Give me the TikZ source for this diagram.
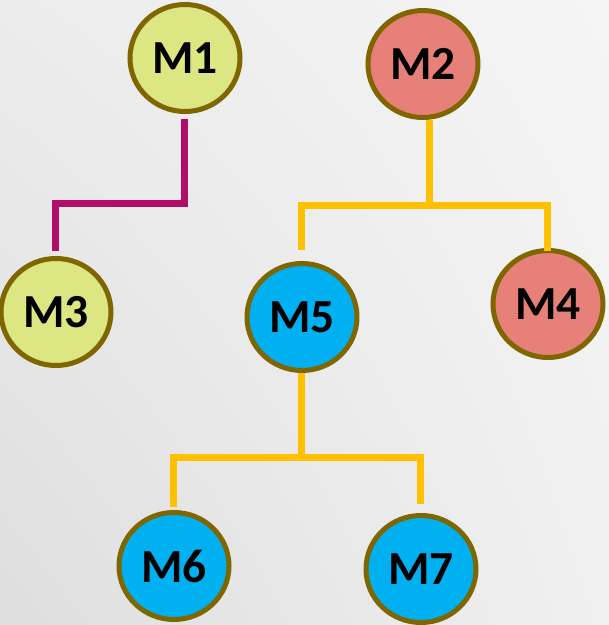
\documentclass[tikz,border=0pt]{standalone}
\usepackage{fontspec}
\setmainfont{Carlito}
\usetikzlibrary{shapes.geometric,shadings}
\definecolor{limefill}{RGB}{220,230,130}
\definecolor{salmonfill}{RGB}{230,128,120}
\definecolor{cyanfill}{RGB}{0,176,240}
\definecolor{olivering}{RGB}{127,102,0}
\definecolor{plumline}{RGB}{176,14,104}
\definecolor{amberline}{RGB}{255,192,0}
\definecolor{bgul}{RGB}{236,236,236}
\definecolor{bgur}{RGB}{245,245,245}
\definecolor{bgll}{RGB}{222,222,222}
\definecolor{bglr}{RGB}{240,240,240}
\begin{document}
\begin{tikzpicture}[
    mnode/.style={ellipse, draw=olivering, line width=0.05cm, minimum width=1.10cm,
        minimum height=1.07cm, inner sep=0pt, font=\bfseries\fontsize{13.5}{16}\selectfont},
    plum/.style={draw=plumline, line width=0.07cm},
    amber/.style={draw=amberline, line width=0.07cm}]
    % background
    \shade[upper left=bgul, upper right=bgur, lower left=bgll, lower right=bglr]
        (0,0) rectangle (6.09,6.25);
    \useasboundingbox (0,0) rectangle (6.09,6.25);
    % machines
    \node[mnode, fill=limefill] (M1) at (1.85,5.67) {M1};
    \node[mnode, fill=salmonfill] (M2) at (4.23,5.61) {M2};
    \node[mnode, fill=limefill] (M3) at (0.56,3.13) {M3};
    \node[mnode, fill=cyanfill] (M5) at (3.02,3.08) {M5};
    \node[mnode, fill=salmonfill] (M4) at (5.48,3.21) {M4};
    \node[mnode, fill=cyanfill] (M6) at (1.74,0.59) {M6};
    \node[mnode, fill=cyanfill] (M7) at (4.21,0.56) {M7};
    \coordinate (bus1) at (0,4.22);
    \coordinate (bus2) at (0,4.20);
    \coordinate (bus5) at (0,1.68);
    % links
    \draw[plum, shorten <=0.05cm, shorten >=0.05cm] (M1.south) |- (bus1 -| M3.north) -- (M3.north);
    \draw[amber] ([xshift=0.07cm]M2.south) -- ([xshift=0.07cm]M2.south |- bus2);
    \draw[amber, shorten <=0.11cm, shorten >=-0.03cm] (M5.north) |- (bus2 -| M2.south) -| (M4.north);
    \draw[amber] (M5.south) -- (M5.south |- bus5);
    \draw[amber, shorten <=0.03cm, shorten >=0.09cm] (M6.north) |- (bus5 -| M5.south) -| (M7.north);
\end{tikzpicture}
\end{document}
